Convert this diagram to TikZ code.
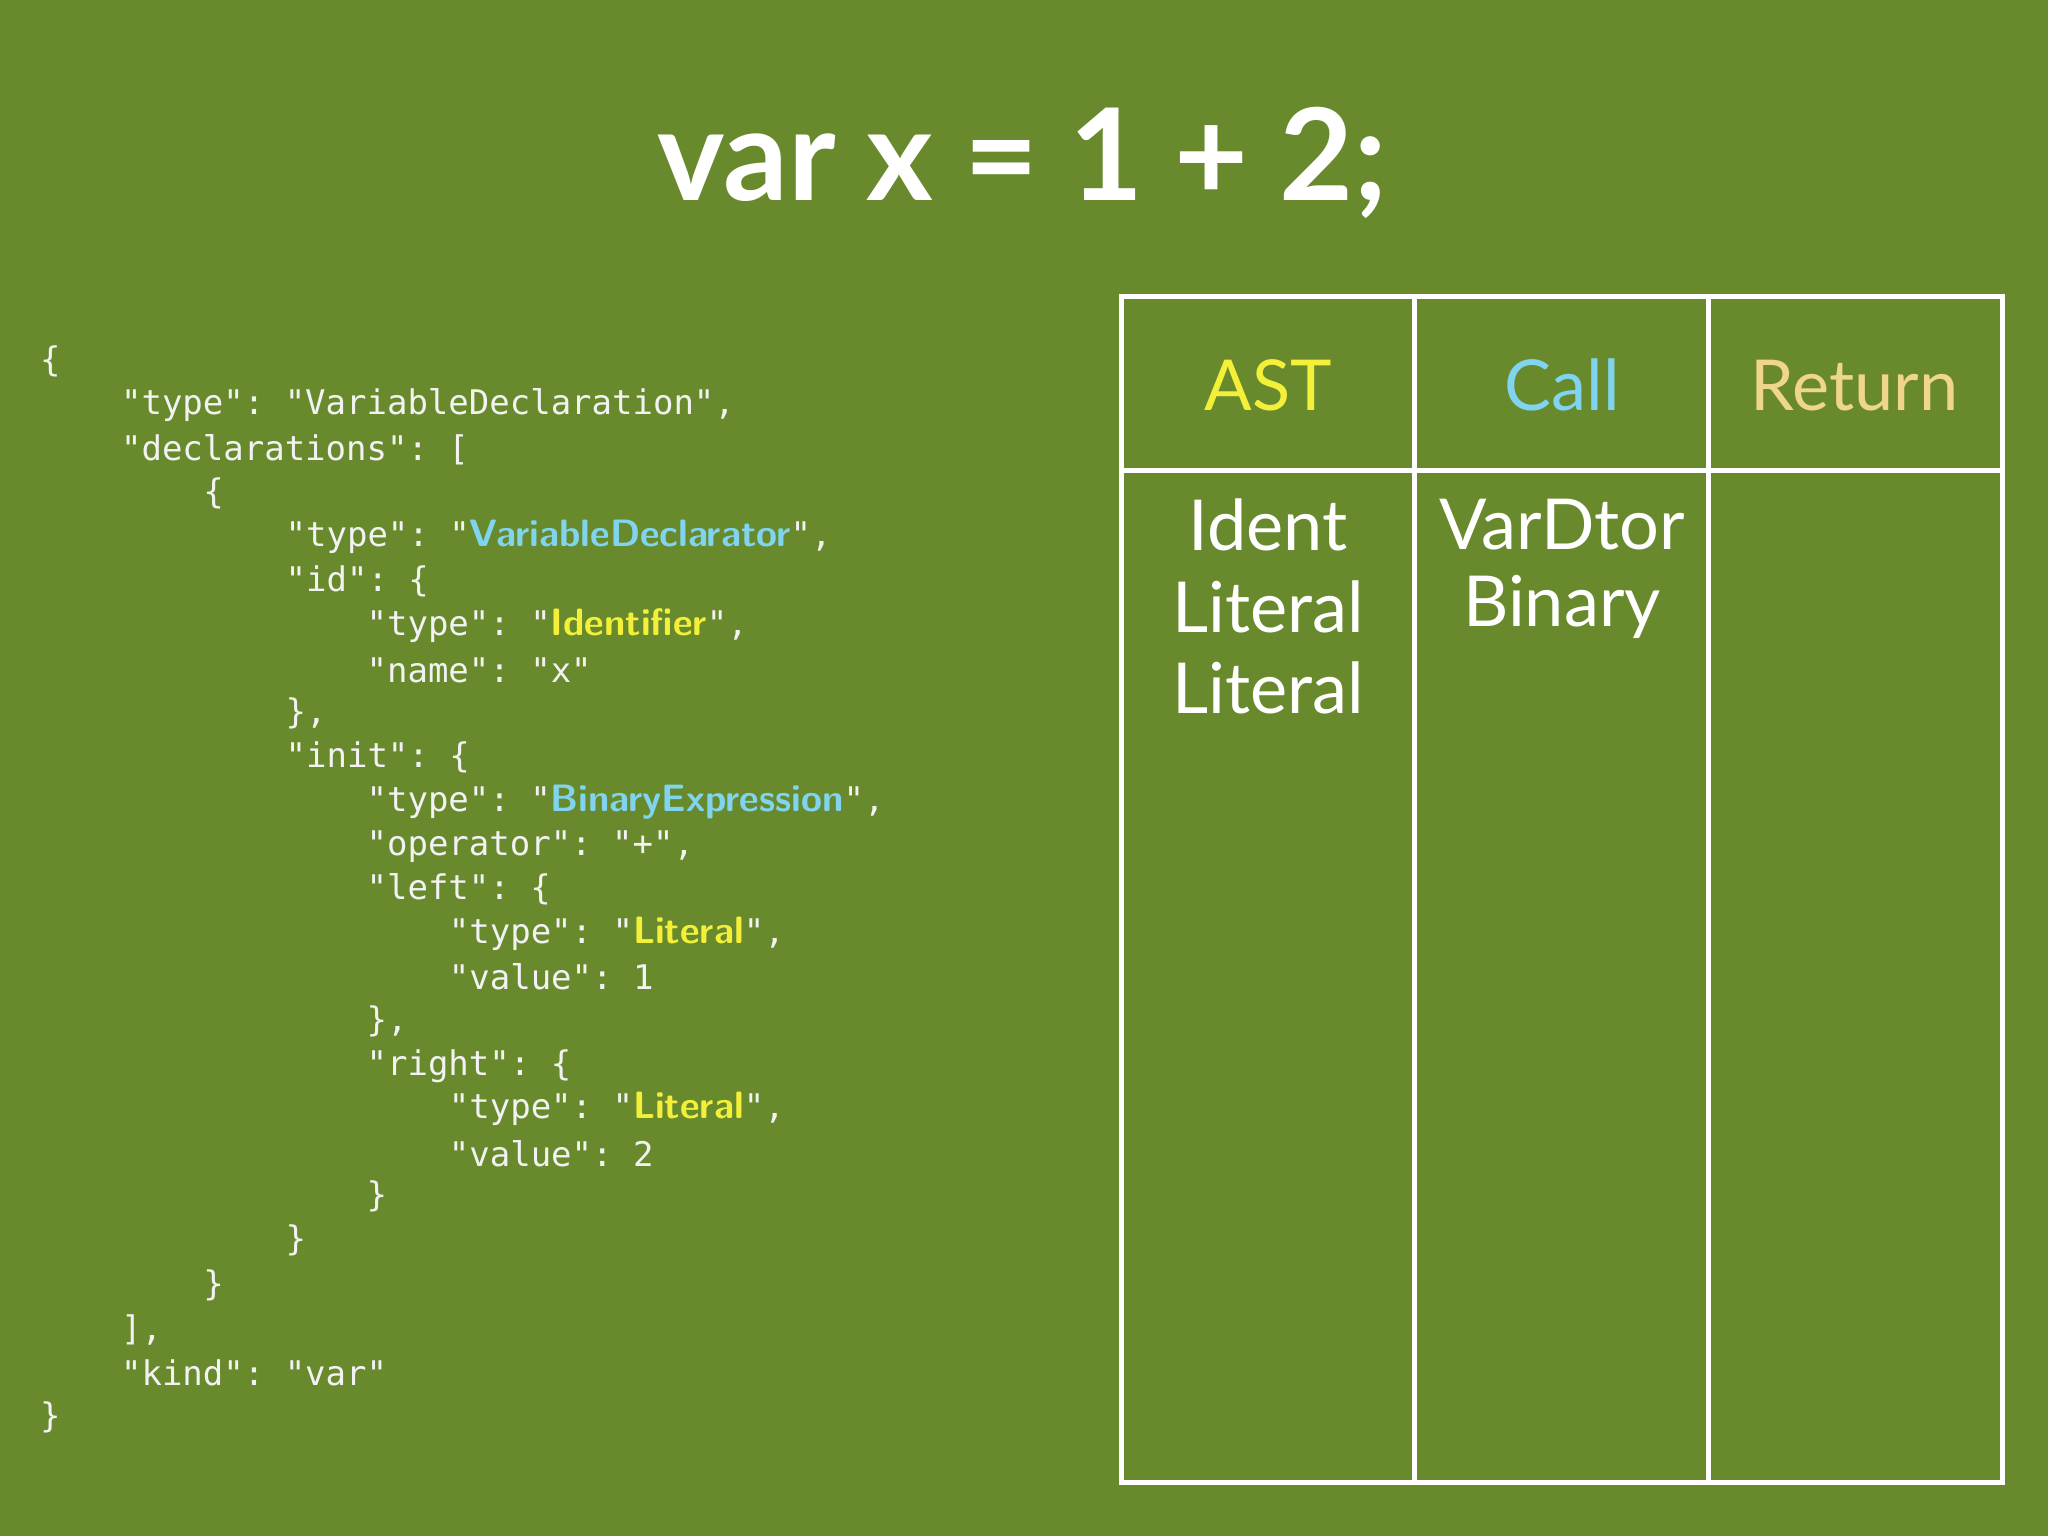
\documentclass[tikz,border=0pt]{standalone}
\usepackage{fontspec}
\setmainfont{Lato}
\setmonofont{DejaVu Sans Mono}
\definecolor{bg}{HTML}{688A2D}
\definecolor{cy}{HTML}{80D4EE}
\definecolor{ye}{HTML}{F4F03A}
\definecolor{rt}{HTML}{F0D68C}
\definecolor{cd}{HTML}{F2F2F2}
\begin{document}
\begin{tikzpicture}[x=0.01cm,y=-0.01cm,
  code/.style={anchor=west,inner sep=0,text=cd,font=\fontsize{7.4pt}{8pt}\ttfamily},
  cell/.style={inner sep=0,text=white,font=\fontsize{15.3pt}{18pt}\selectfont}]
\newcommand\hc[2]{\textcolor{#1}{\fontsize{8.3pt}{8pt}\sffamily\bfseries #2}}
\fill[bg] (0,0) rectangle (1568,1176);
\node[text=white,font=\fontsize{27.8pt}{32pt}\selectfont\bfseries] (title) at (783,125) {var x = 1 + 2;};
% code
\node[code] (l1) at (30,277) {\{};
\node[code] (l2) at (92,310) {"type": "VariableDeclaration",};
\node[code] (l3) at (92,344) {"declarations": [};
\node[code] (l4) at (155,378) {\{};
\node[code] (l5) at (218,411) {"type": "\hc{cy}{VariableDeclarator}",};
\node[code] (l6) at (218,445) {"id": \{};
\node[code] (l7) at (280,479) {"type": "\hc{ye}{Identifier}",};
\node[code] (l8) at (280,513) {"name": "x"};
\node[code] (l9) at (218,546) {\},};
\node[code] (l10) at (218,580) {"init": \{};
\node[code] (l11) at (280,614) {"type": "\hc{cy}{BinaryExpression}",};
\node[code] (l12) at (280,648) {"operator": "+",};
\node[code] (l13) at (280,681) {"left": \{};
\node[code] (l14) at (343,715) {"type": "\hc{ye}{Literal}",};
\node[code] (l15) at (343,748) {"value": 1};
\node[code] (l16) at (280,782) {\},};
\node[code] (l17) at (280,816) {"right": \{};
\node[code] (l18) at (343,849) {"type": "\hc{ye}{Literal}",};
\node[code] (l19) at (343,883) {"value": 2};
\node[code] (l20) at (280,916) {\}};
\node[code] (l21) at (218,950) {\}};
\node[code] (l22) at (155,984) {\}};
\node[code] (l23) at (92,1018) {],};
\node[code] (l24) at (92,1051) {"kind": "var"};
\node[code] (l25) at (30,1085) {\}};
% table
\draw[white,line width=1.1pt] (859,227) rectangle (1533,1135);
\draw[white,line width=1.1pt] (1083,227) -- (1083,1135);
\draw[white,line width=1.1pt] (1308,227) -- (1308,1135);
\draw[white,line width=1.1pt] (859,360) -- (1533,360);
\node[cell,text=ye] (h1) at (971,295) {AST};
\node[cell,text=cy] (h2) at (1196,295) {Call};
\node[cell,text=rt] (h3) at (1420,295) {Return};
\node[cell] (a1) at (971,402) {Ident};
\node[cell] (a2) at (971,465) {Literal};
\node[cell] (a3) at (971,527) {Literal};
\node[cell] (c1) at (1196,402) {VarDtor};
\node[cell] (c2) at (1196,465) {Binary};
\end{tikzpicture}
\end{document}
